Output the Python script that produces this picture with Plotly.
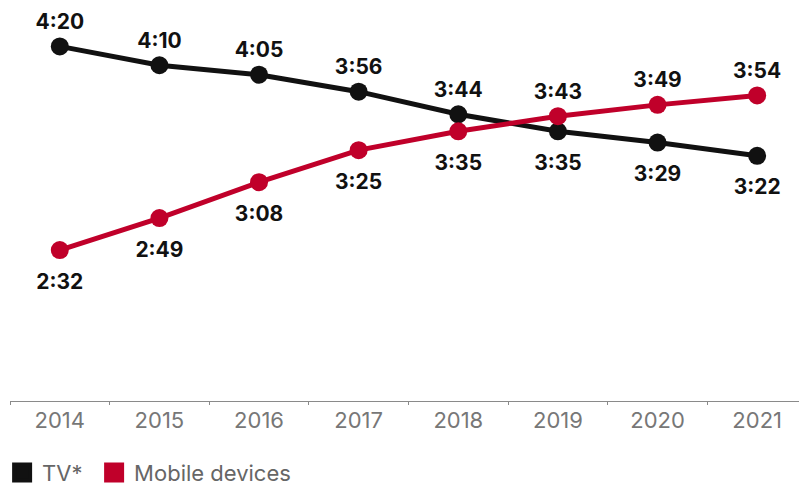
import plotly.graph_objects as go

years = ["2014", "2015", "2016", "2017", "2018", "2019", "2020", "2021"]
tv_labels = ["4:20", "4:10", "4:05", "3:56", "3:44", "3:35", "3:29", "3:22"]
mobile_labels = ["2:32", "2:49", "3:08", "3:25", "3:35", "3:43", "3:49", "3:54"]


def to_minutes(s):
    h, m = s.split(":")
    return int(h) * 60 + int(m)


tv = [to_minutes(s) for s in tv_labels]
mobile = [to_minutes(s) for s in mobile_labels]

BLACK = "#111111"
RED = "#c0002a"
GRAY = "#777777"
FONT = "Inter"
LABEL_FONT = dict(family=FONT, size=21, color=BLACK, weight="bold")

fig = go.Figure()
fig.add_trace(go.Scatter(
    x=years, y=tv, mode="lines+markers", line=dict(color=BLACK, width=5),
    marker=dict(color=BLACK, size=18), showlegend=False, hoverinfo="skip",
))
fig.add_trace(go.Scatter(
    x=years, y=mobile, mode="lines+markers", line=dict(color=RED, width=5),
    marker=dict(color=RED, size=18), showlegend=False, hoverinfo="skip",
))

# value labels: above the higher series, below the lower one
for vals, labels, other in ((tv, tv_labels, mobile), (mobile, mobile_labels, tv)):
    up = [i for i in range(len(vals)) if vals[i] > other[i]]
    dn = [i for i in range(len(vals)) if vals[i] <= other[i]]
    fig.add_trace(go.Scatter(
        x=[years[i] for i in up], y=[vals[i] for i in up],
        text=[labels[i] for i in up], mode="markers+text",
        textposition="top center", textfont=LABEL_FONT,
        marker=dict(size=18, color="rgba(0,0,0,0)"), showlegend=False,
        cliponaxis=False, hoverinfo="skip",
    ))
    fig.add_trace(go.Scatter(
        x=[years[i] for i in dn], y=[vals[i] for i in dn],
        text=[labels[i] for i in dn], mode="markers+text",
        textposition="bottom center", textfont=LABEL_FONT,
        marker=dict(size=35, color="rgba(0,0,0,0)"), showlegend=False,
        cliponaxis=False, hoverinfo="skip",
    ))

fig.add_trace(go.Scatter(x=[None], y=[None], mode="markers", name="TV*",
                         legendwidth=47,
                         marker=dict(symbol="square", size=16, color=BLACK,
                                     line=dict(color=BLACK, width=4))))
fig.add_trace(go.Scatter(x=[None], y=[None], mode="markers", name="Mobile devices",
                         marker=dict(symbol="square", size=16, color=RED,
                                     line=dict(color=RED, width=4))))

fig.update_layout(
    width=799, height=487,
    margin=dict(l=10, r=0, t=0, b=86, autoexpand=False),
    paper_bgcolor="white", plot_bgcolor="white",
    font=dict(family=FONT, size=20, color=GRAY),
    xaxis=dict(type="category", range=[-0.5, 7.42], showgrid=False,
               showline=True, linecolor="#8a8a8a", linewidth=1,
               ticks="outside", tickson="boundaries", ticklen=3,
               tickcolor="#8a8a8a", tickfont=dict(family=FONT, size=22, color=GRAY)),
    yaxis=dict(range=[72.0, 284.6], visible=False),
    legend=dict(orientation="h", x=-0.010, xanchor="left", y=-0.1265, yanchor="top",
                font=dict(family=FONT, size=22, color="#666666"),
                itemwidth=30, tracegroupgap=0),
)

fig.write_html("out.html", config={"displayModeBar": False},
               post_script="document.body.style.margin='0';")
